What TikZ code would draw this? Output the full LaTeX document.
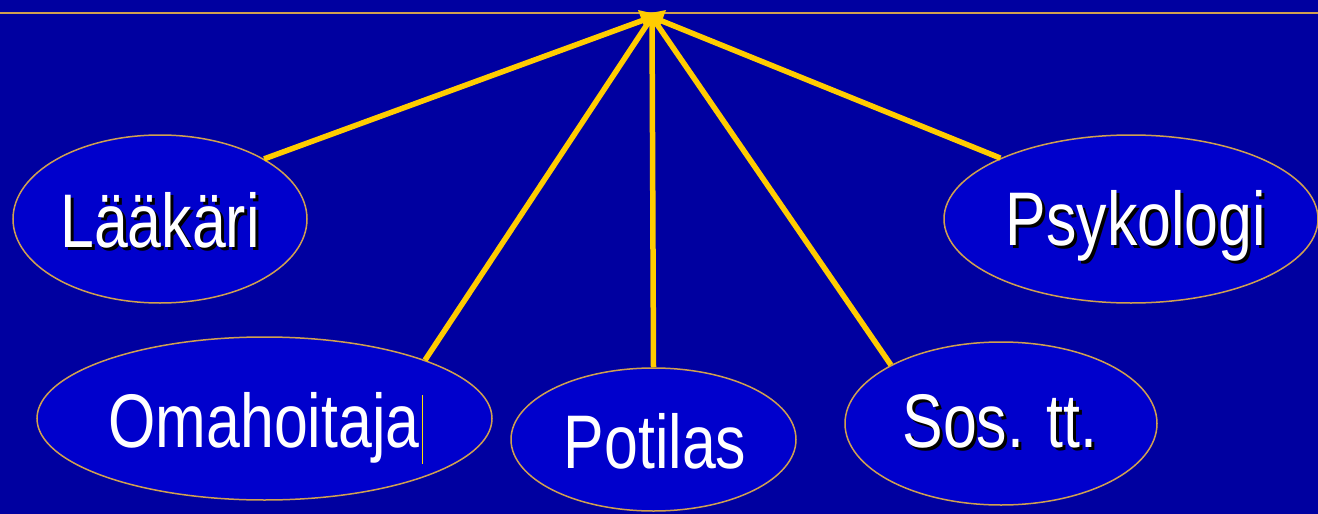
\documentclass[tikz,border=0pt]{standalone}
\usepackage{fontspec}
\setmainfont{Liberation Sans}
\usetikzlibrary{shapes.geometric}
\definecolor{bg}{HTML}{0000A0}
\definecolor{ellfill}{HTML}{0000CC}
\definecolor{ellborder}{HTML}{D0A050}
\definecolor{gold}{HTML}{FFCC00}
\definecolor{cursor}{HTML}{FFE000}
\tikzset{
  bubble/.style={ellipse, draw=ellborder, line width=1.5pt, fill=ellfill, inner sep=0pt},
  connector/.style={draw=gold, line width=5.5pt},
  lbl/.style={anchor=base, text=white, inner sep=0pt, font=\fontsize{76}{80}\selectfont},
  shadowlbl/.style={anchor=base, text=black, inner sep=0pt, font=\fontsize{76}{80}\selectfont},
}
\newcommand{\nar}[1]{\scalebox{0.8}[1]{#1}}
\begin{document}
\begin{tikzpicture}[x=1pt,y=-1pt]
\fill[bg] (0,0) rectangle (1318,514);
\useasboundingbox (0,0) rectangle (1318,514);
% top rule
\coordinate (topL) at (0,13);
\coordinate (topR) at (1318,13);
\draw[ellborder, line width=2pt] (topL) -- (topR);
% ellipses
\node[bubble, minimum width=294pt, minimum height=168pt] (laak) at (160,219) {};
\node[bubble, minimum width=374pt, minimum height=168pt] (psyk) at (1131,219) {};
\node[bubble, minimum width=455pt, minimum height=163pt] (oma) at (264.5,418.5) {};
\node[bubble, minimum width=285pt, minimum height=143pt] (pot) at (653.5,439.5) {};
\node[bubble, minimum width=312pt, minimum height=163pt] (sos) at (1001,423.5) {};
% hub
\coordinate (hub) at (652,17);
\fill[gold] (638,10) -- (651,13) -- (666,10) -- (660,26) -- (644,26) -- cycle;
% connectors
\draw[connector] (hub) -- (laak.30);
\draw[connector] (hub) -- (oma.20);
\draw[connector] (hub) -- (pot.90);
\draw[connector] (hub) -- (sos.152);
\draw[connector] (hub) -- (psyk.155);
% labels
\node[shadowlbl] (laaks) at (163,250) {\nar{Lääkäri}};
\node[lbl] (laakt) at (160,247) {\nar{Lääkäri}};
\node[shadowlbl] (psyks) at (1139,248) {\nar{Psykologi}};
\node[lbl] (psykt) at (1136,245) {\nar{Psykologi}};
\node[lbl] (omat) at (264,447) {\nar{Omahoitaja}};
\node[lbl] (pott) at (655,468) {\nar{Potilas}};
\node[shadowlbl] (soss) at (1003,450) {\nar{Sos. tt.}};
\node[lbl] (sost) at (1000,447) {\nar{Sos. tt.}};
% text cursor
\coordinate (curA) at (422,395);
\coordinate (curB) at (422,464);
\draw[cursor, line width=1pt] (curA) -- (curB);
\end{tikzpicture}
\end{document}
